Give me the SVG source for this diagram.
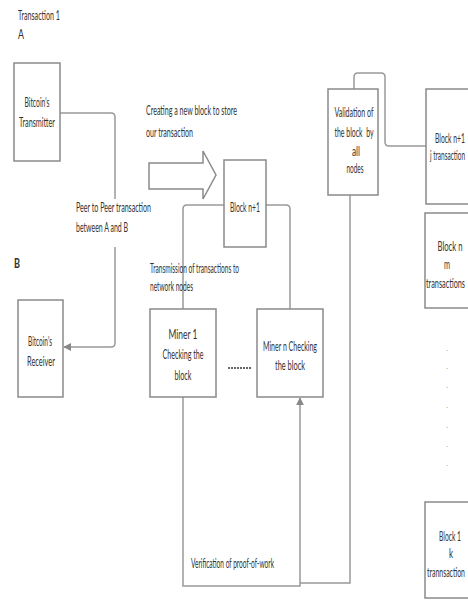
<svg xmlns="http://www.w3.org/2000/svg" width="468" height="607" viewBox="0 0 468 607">
<defs>
<style>
.box{fill:#fff;stroke:#8a8a8a;stroke-width:1.5}
.t{font-family:Lato,"Liberation Sans",sans-serif;font-size:14px;fill:#333}
.c{fill:none;stroke:#999;stroke-width:1.5}
.d{font-family:Lato,"Liberation Sans",sans-serif;font-size:7px;fill:#888}
</style>
<marker id="ah" viewBox="0 0 10 10" refX="9" refY="5" markerWidth="8" markerHeight="8" markerUnits="userSpaceOnUse" orient="auto">
<path d="M0,0 L10,5 L0,10 Z" fill="#888"/>
</marker>
</defs>
<rect width="468" height="607" fill="#fff"/>
<g id="connectors">
<path class="c" d="M60,113 H111 Q115,113 115,117 V343 Q115,347 111,347 H64" marker-end="url(#ah)"/>
<path class="c" d="M224,205 H187 Q183,205 183,209 V309"/>
<path class="c" d="M266,205 H286 Q290,205 290,209 V309"/>
<path class="c" d="M183,397 V586 H300 V398" marker-end="url(#ah)"/>
<path class="c" d="M350,195 V583 H300"/>
<path class="c" d="M354,89 V77 Q354,73 358,73 H381 Q385,73 385,77 V142 Q385,146 389,146 H426"/>
<line x1="228" y1="368" x2="252" y2="368" stroke="#333" stroke-width="1.5" stroke-dasharray="2 1"/>
<polygon points="149,163 203,163 203,151 216,175 203,199 203,189 149,189" fill="#fff" stroke="#8a8a8a" stroke-width="1.5"/>
</g>
<g id="labels">
<text class="t" x="18" y="20" textLength="42" lengthAdjust="spacingAndGlyphs">Transaction 1</text>
<text class="t" x="18" y="39" textLength="6" lengthAdjust="spacingAndGlyphs">A</text>
<text class="t" x="14" y="268" font-weight="bold" textLength="6" lengthAdjust="spacingAndGlyphs">B</text>
<text class="t" x="146" y="115" textLength="91" lengthAdjust="spacingAndGlyphs">Creating a new block to store</text>
<text class="t" x="146" y="137" textLength="47" lengthAdjust="spacingAndGlyphs">our transaction</text>
<rect x="74" y="199" width="80" height="48" fill="#fff"/>
<text class="t" x="76" y="212" textLength="75" lengthAdjust="spacingAndGlyphs">Peer to Peer transaction</text>
<text class="t" x="76" y="232" textLength="52" lengthAdjust="spacingAndGlyphs">between A and B</text>
<text class="t" x="150" y="273" textLength="89" lengthAdjust="spacingAndGlyphs">Transmission of transactions to</text>
<text class="t" x="150" y="291" textLength="43" lengthAdjust="spacingAndGlyphs">network nodes</text>
<text class="t" x="191" y="568" textLength="83" lengthAdjust="spacingAndGlyphs">Verification of proof-of-work</text>
</g>
<g id="transmitter">
<rect class="box" x="14" y="63" width="46" height="98"/>
<text class="t" x="37" y="107" text-anchor="middle" textLength="25" lengthAdjust="spacingAndGlyphs">Bitcoin's</text>
<text class="t" x="37" y="127" text-anchor="middle" textLength="36" lengthAdjust="spacingAndGlyphs">Transmitter</text>
</g>
<g id="receiver">
<rect class="box" x="18" y="300" width="45" height="97"/>
<text class="t" x="40" y="346" text-anchor="middle" textLength="24" lengthAdjust="spacingAndGlyphs">Bitcoin's</text>
<text class="t" x="41" y="366" text-anchor="middle" textLength="28" lengthAdjust="spacingAndGlyphs">Receiver</text>
</g>
<g id="block-new">
<rect class="box" x="224" y="160" width="42" height="87"/>
<text class="t" x="245" y="212" text-anchor="middle" textLength="30" lengthAdjust="spacingAndGlyphs">Block n+1</text>
</g>
<g id="miner1">
<rect class="box" x="150" y="309" width="66" height="88"/>
<text class="t" x="183" y="339" text-anchor="middle" textLength="29" lengthAdjust="spacingAndGlyphs">Miner 1</text>
<text class="t" x="183" y="359" text-anchor="middle" textLength="41" lengthAdjust="spacingAndGlyphs">Checking the</text>
<text class="t" x="183" y="380" text-anchor="middle" textLength="17" lengthAdjust="spacingAndGlyphs">block</text>
</g>
<g id="minern">
<rect class="box" x="257" y="309" width="66" height="88"/>
<text class="t" x="290" y="351" text-anchor="middle" textLength="54" lengthAdjust="spacingAndGlyphs">Miner n Checking</text>
<text class="t" x="290" y="370" text-anchor="middle" textLength="30" lengthAdjust="spacingAndGlyphs">the block</text>
</g>
<g id="validation">
<rect class="box" x="328" y="89" width="50" height="106"/>
<text class="t" x="354" y="117" text-anchor="middle" textLength="39" lengthAdjust="spacingAndGlyphs">Validation of</text>
<text class="t" x="354" y="137" text-anchor="middle" textLength="39" lengthAdjust="spacingAndGlyphs" xml:space="preserve">the block  by</text>
<text class="t" x="356" y="156" text-anchor="middle" textLength="8" lengthAdjust="spacingAndGlyphs">all</text>
<text class="t" x="355" y="173" text-anchor="middle" textLength="17" lengthAdjust="spacingAndGlyphs">nodes</text>
</g>
<g id="block-n1">
<rect class="box" x="426" y="89" width="52" height="115"/>
<text class="t" x="450" y="143" text-anchor="middle" textLength="30" lengthAdjust="spacingAndGlyphs">Block n+1</text>
<text class="t" x="447.5" y="160" text-anchor="middle" textLength="35" lengthAdjust="spacingAndGlyphs">j transaction</text>
</g>
<g id="block-n">
<rect class="box" x="425" y="213" width="52" height="95"/>
<text class="t" x="450" y="251" text-anchor="middle" textLength="25" lengthAdjust="spacingAndGlyphs">Block n</text>
<text class="t" x="447" y="269" text-anchor="middle" textLength="6" lengthAdjust="spacingAndGlyphs">m</text>
<text class="t" x="445.5" y="288" text-anchor="middle" textLength="39" lengthAdjust="spacingAndGlyphs">transactions</text>
</g>
<g id="dots">
<text class="d" x="447" y="351" text-anchor="middle">.</text>
<text class="d" x="447" y="369" text-anchor="middle">.</text>
<text class="d" x="447" y="388" text-anchor="middle">.</text>
<text class="d" x="447" y="408" text-anchor="middle">.</text>
<text class="d" x="447" y="428" text-anchor="middle">.</text>
<text class="d" x="447" y="447" text-anchor="middle">.</text>
<text class="d" x="447" y="466" text-anchor="middle">.</text>
</g>
<g id="block-1">
<rect class="box" x="425" y="502" width="52" height="96"/>
<text class="t" x="450" y="541" text-anchor="middle" textLength="22" lengthAdjust="spacingAndGlyphs">Block 1</text>
<text class="t" x="451" y="558" text-anchor="middle" textLength="4" lengthAdjust="spacingAndGlyphs">k</text>
<text class="t" x="446" y="577" text-anchor="middle" textLength="38" lengthAdjust="spacingAndGlyphs">trannsaction</text>
</g>
</svg>
